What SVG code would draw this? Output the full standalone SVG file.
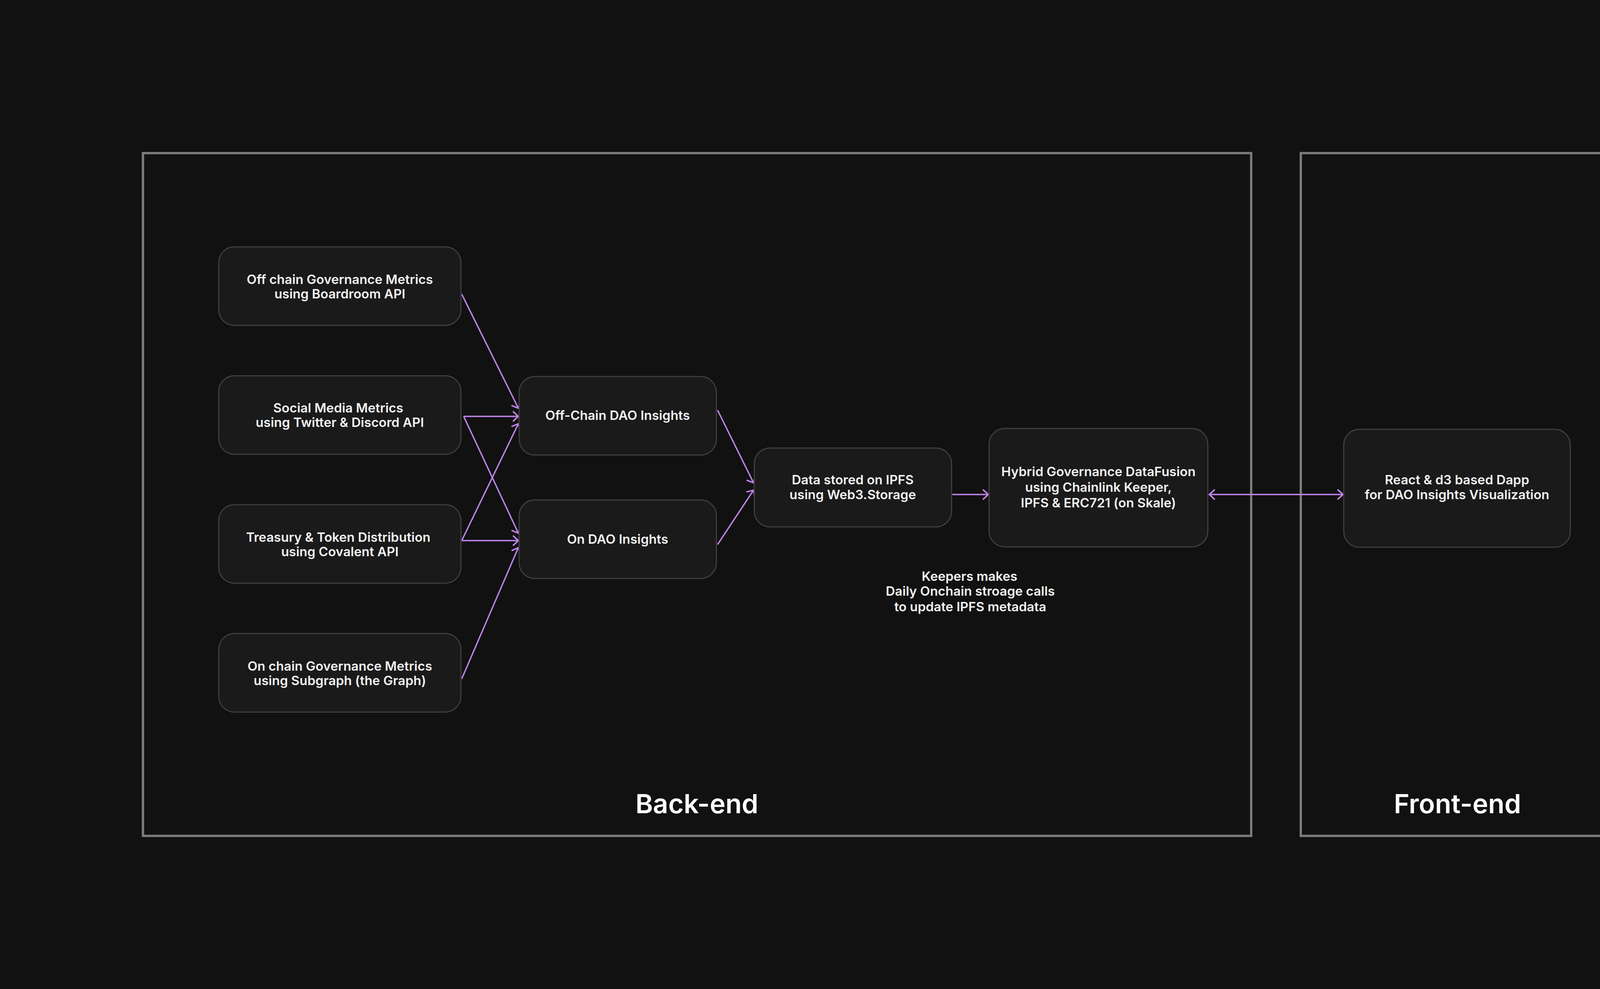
<svg xmlns="http://www.w3.org/2000/svg" width="4501" height="2532" viewBox="0 0 4501 2532">
<defs>
<style>
.frame{fill:none;stroke:#7a7a7a;stroke-width:6}
.node{fill:#1a1a1a;stroke:#3e3e3e;stroke-width:3}
.t{font-family:Inter,"Liberation Sans",sans-serif;font-weight:600;font-size:33px;fill:#f2f2f2;text-anchor:middle}
.title{font-family:Inter,"Liberation Sans",sans-serif;font-weight:600;font-size:68px;fill:#ffffff;text-anchor:middle}
.edge{fill:none;stroke:#c084ee;stroke-width:3.5}
</style>
<marker id="ah" markerUnits="userSpaceOnUse" markerWidth="30" markerHeight="30" viewBox="-2 -2 18 28" refX="14" refY="12" orient="auto-start-reverse">
<path d="M1,0 L14,12 L1,24" fill="none" stroke="#c084ee" stroke-width="3.5"/>
</marker>
</defs>
<rect width="4501" height="2532" fill="#111111"/>
<g id="backend">
<rect class="frame" x="366" y="392" width="2837" height="1748"/>
<text class="title" x="1784" y="2082">Back-end</text>
</g>
<g id="frontend">
<rect class="frame" x="3330" y="392" width="803" height="1748"/>
<text class="title" x="3731" y="2082">Front-end</text>
</g>
<g id="connectors">
<line class="edge" x1="1182" y1="753" x2="1327" y2="1045" marker-end="url(#ah)"/>
<line class="edge" x1="1187" y1="1066" x2="1327" y2="1066" marker-end="url(#ah)"/>
<line class="edge" x1="1187" y1="1066" x2="1327" y2="1365" marker-end="url(#ah)"/>
<line class="edge" x1="1182" y1="1384" x2="1327" y2="1085" marker-end="url(#ah)"/>
<line class="edge" x1="1182" y1="1384" x2="1327" y2="1384" marker-end="url(#ah)"/>
<line class="edge" x1="1182" y1="1738" x2="1327" y2="1402" marker-end="url(#ah)"/>
<line class="edge" x1="1837" y1="1050" x2="1929" y2="1236" marker-end="url(#ah)"/>
<line class="edge" x1="1837" y1="1394" x2="1929" y2="1255" marker-end="url(#ah)"/>
<line class="edge" x1="2438" y1="1266" x2="2530" y2="1266" marker-end="url(#ah)"/>
<line class="edge" x1="3096" y1="1266" x2="3438" y2="1266" marker-start="url(#ah)" marker-end="url(#ah)"/>
</g>
<g id="n-offchain-gov">
<rect class="node" x="560" y="632" width="620" height="201" rx="40"/>
<text class="t" x="870" y="727">Off chain Governance Metrics</text>
<text class="t" x="870" y="764">using Boardroom API</text>
</g>
<g id="n-social">
<rect class="node" x="560" y="962" width="620" height="201" rx="40"/>
<text class="t" x="866" y="1056">Social Media Metrics</text>
<text class="t" x="870" y="1093">using Twitter &amp; Discord API</text>
</g>
<g id="n-treasury">
<rect class="node" x="560" y="1292" width="620" height="201" rx="40"/>
<text class="t" x="866" y="1387">Treasury &amp; Token Distribution</text>
<text class="t" x="870" y="1424">using Covalent API</text>
</g>
<g id="n-onchain-gov">
<rect class="node" x="560" y="1622" width="620" height="201" rx="40"/>
<text class="t" x="870" y="1717">On chain Governance Metrics</text>
<text class="t" x="870" y="1754">using Subgraph (the Graph)</text>
</g>
<g id="n-offchain-insights">
<rect class="node" x="1329" y="964" width="505" height="201" rx="40"/>
<text class="t" x="1581" y="1075">Off-Chain DAO Insights</text>
</g>
<g id="n-on-insights">
<rect class="node" x="1329" y="1280" width="505" height="201" rx="40"/>
<text class="t" x="1581" y="1392">On DAO Insights</text>
</g>
<g id="n-ipfs">
<rect class="node" x="1931" y="1147" width="505" height="202" rx="40"/>
<text class="t" x="2183" y="1240">Data stored on IPFS</text>
<text class="t" x="2183" y="1278">using Web3.Storage</text>
</g>
<g id="n-hybrid">
<rect class="node" x="2532" y="1097" width="560" height="303" rx="40"/>
<text class="t" x="2812" y="1219">Hybrid Governance DataFusion</text>
<text class="t" x="2812" y="1259">using Chainlink Keeper,</text>
<text class="t" x="2812" y="1299">IPFS &amp; ERC721 (on Skale)</text>
</g>
<g id="n-dapp">
<rect class="node" x="3440" y="1099" width="580" height="302" rx="40"/>
<text class="t" x="3730" y="1240">React &amp; d3 based Dapp</text>
<text class="t" x="3730" y="1278">for DAO Insights Visualization</text>
</g>
<g id="keepers-note">
<text class="t" x="2482" y="1487">Keepers makes</text>
<text class="t" x="2484" y="1525">Daily Onchain stroage calls</text>
<text class="t" x="2484" y="1565">to update IPFS metadata</text>
</g>
</svg>
